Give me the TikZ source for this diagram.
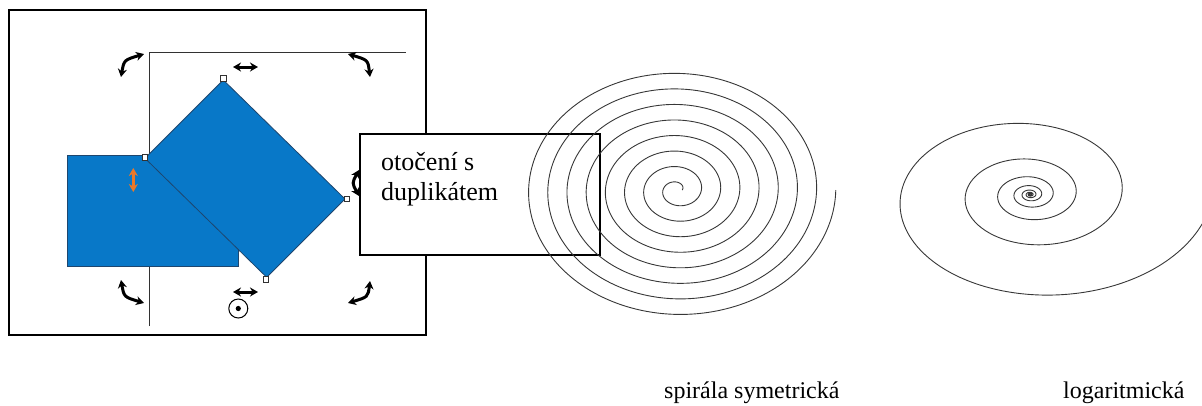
\documentclass[tikz,border=0pt]{standalone}
\usepackage{fontspec}
\setmainfont{Liberation Serif}
\usetikzlibrary{arrows.meta}
\definecolor{shapeblue}{RGB}{8,120,200}
\definecolor{shapeedge}{RGB}{30,70,110}
\definecolor{handleorange}{RGB}{235,120,40}
\definecolor{spiralgray}{RGB}{55,55,55}
\definecolor{guidegray}{RGB}{50,50,50}
\begin{document}
\begin{tikzpicture}[x=1pt,y=-1pt,
  frame/.style={draw=black,line width=2pt},
  guide/.style={draw=guidegray,line width=1.3pt},
  blueshape/.style={fill=shapeblue,draw=shapeedge,line width=0.8pt},
  handle/.style={draw=guidegray,fill=white,line width=0.9pt},
  rotarrow/.style={line width=3pt,{Stealth[length=8pt,width=9pt]}-{Stealth[length=8pt,width=9pt]}},
  skewarrow/.style={line width=3pt,{Stealth[length=8pt,width=9pt]}-{Stealth[length=8pt,width=9pt]}},
  spiral/.style={draw=spiralgray,line width=0.9pt},
  boxtext/.style={anchor=base west,inner sep=0pt,font=\fontsize{26}{30}\selectfont},
  labeltext/.style={anchor=base west,inner sep=0pt,font=\fontsize{24}{28}\selectfont}]
\useasboundingbox (0,0) rectangle (1202,405);
\clip (0,0) rectangle (1202,405);
% screenshot frame
\draw[frame,fill=white] (9.3,10) rectangle (425.7,335);
% guide lines
\draw[guide] (149.3,326) -- (149.3,52.3) -- (406,52.3);
% blue shapes
\draw[blueshape] (67.7,155) rectangle (238.3,266.7);
\draw[blueshape] (145,158.3) -- (223.3,80) -- (345,199) -- (266.7,277.3) -- cycle;
% handles
\foreach \p in {(223.3,78.3),(346.7,199),(265.7,279.3),(145,157.3)}
  \draw[handle] \p ++(-2.7,-2.7) rectangle ++(5.4,5.4);
% rotation arrows
\draw[rotarrow] (121,77) .. controls (124,60) .. (144,54);
\draw[rotarrow] (348,54) .. controls (368,60) .. (370,77);
\draw[rotarrow] (121,280) .. controls (124,297) .. (144,303);
\draw[rotarrow] (348,303) .. controls (368,297) .. (370,281);
\draw[rotarrow] (359,170) .. controls (352,183) .. (359,196);
% skew arrows
\draw[skewarrow] (233,67) -- (258,67);
\draw[skewarrow] (233,292) -- (258,292);
\draw[skewarrow,draw=handleorange,fill=handleorange] (133.3,168) -- (133.3,192);
% rotation centre
\draw[line width=1pt] (238.3,308.5) circle[radius=9.5];
\fill (238.3,308.5) circle[radius=2.6];
% text box
\node[draw=black,line width=2pt,fill=white,minimum width=240pt,minimum height=120.7pt,inner sep=0pt] (box) at (480,194.6) {};
\node[boxtext] (t1) at (381,170) {otočení s};
\node[boxtext] (t2) at (381,200) {duplikátem};
% symmetric spiral
\draw[spiral] plot[domain=0:2880,samples=900,smooth]
  ({677.4+(4.8+19.2*(\x/360))*cos(\x)},{190-0.81*(4.8+19.2*(\x/360))*sin(\x)});
% logarithmic spiral
\draw[spiral] plot[domain=-1440:1440,samples=800,smooth]
  ({1030.2+11.44*pow(2,\x/360)*cos(\x)},{194.5-0.65*11.44*pow(2,\x/360)*sin(\x)});
% labels
\node[labeltext] (l1) at (664,398) {spirála symetrická};
\node[labeltext] (l2) at (1063,398) {logaritmická};
\end{tikzpicture}
\end{document}
